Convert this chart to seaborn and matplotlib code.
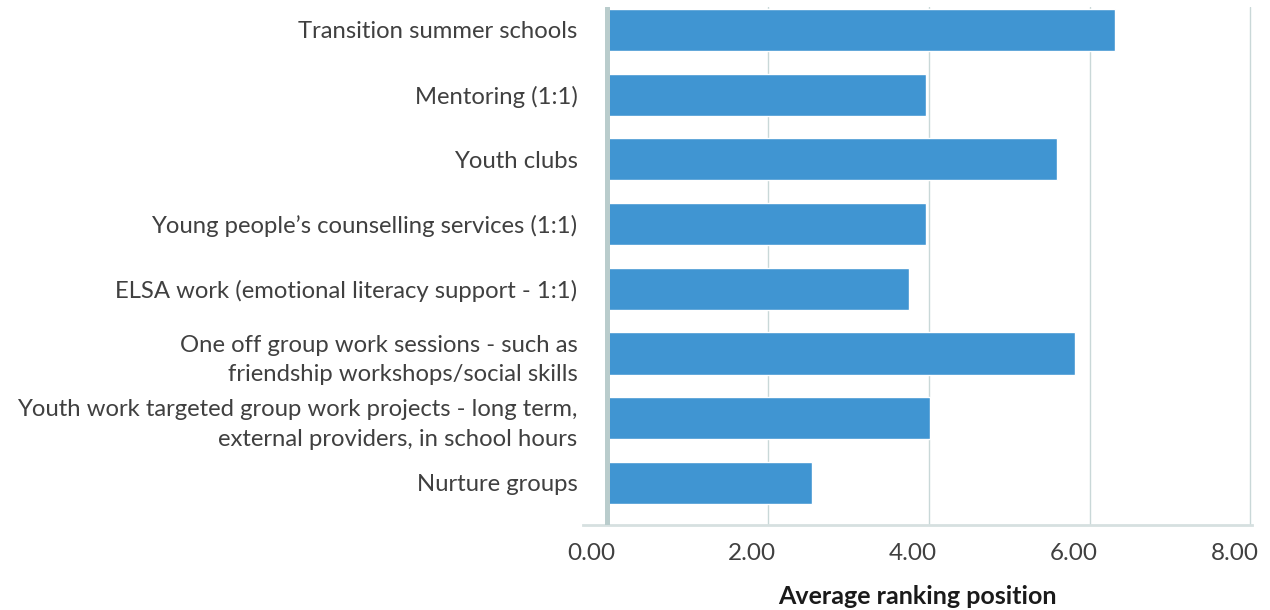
import matplotlib
matplotlib.use("Agg")
import matplotlib.pyplot as plt
import matplotlib.transforms as mtransforms
import seaborn as sns
import pandas as pd

categories = [
    "Transition summer schools",
    "Mentoring (1:1)",
    "Youth clubs",
    "Young people\u2019s counselling services (1:1)",
    "ELSA work (emotional literacy support - 1:1)",
    "One off group work sessions - such as\nfriendship workshops/social skills",
    "Youth work targeted group work projects - long term,\nexternal providers, in school hours",
    "Nurture groups",
]
values = [6.31, 3.96, 5.60, 3.96, 3.75, 5.82, 4.02, 2.55]
x_ticks = [0, 2, 4, 6, 8]
x_tick_labels = ["0.00", "2.00", "4.00", "6.00", "8.00"]
x_title = "Average ranking position"

sns.set_theme(style="white")
plt.rcParams["font.family"] = ["Lato", "DejaVu Sans"]

df = pd.DataFrame({"category": categories, "value": values})

fig = plt.figure(figsize=(12.7, 6.1), dpi=100)
ax = fig.add_axes([583 / 1270, 1 - 525 / 610, (1252 - 583) / 1270, (525 - 7) / 610])

sns.barplot(data=df, x="value", y="category", color="#4095d2", width=0.65,
            saturation=1, ax=ax, zorder=3)

ax.set_xlim(-0.3, 8.02)
ax.set_ylim(7.65, -0.355)

# vertical gridlines
for t in x_ticks[1:]:
    ax.axvline(t, color="#c9d8d8", lw=1.0, zorder=1)
# thick value axis at zero
ax.axvline(0, color="#b9cccc", lw=3.6, zorder=4)

for side in ["left", "right", "top"]:
    ax.spines[side].set_visible(False)
ax.spines["bottom"].set_color("#d6e0e0")
ax.spines["bottom"].set_linewidth(2.0)

ax.set_xticks(x_ticks)
ax.set_xticklabels(x_tick_labels, fontsize=17.5, color="#404040")
ax.tick_params(axis="x", length=0, pad=13)
ax.tick_params(axis="y", length=0, pad=4)
shift = mtransforms.ScaledTranslation(-16 / 100, 0, fig.dpi_scale_trans)
for lbl in ax.get_xticklabels():
    lbl.set_transform(lbl.get_transform() + shift)
for lbl in ax.get_yticklabels():
    lbl.set_fontsize(17.2)
    lbl.set_color("#404040")
    lbl.set_linespacing(1.5)
    lbl.set_horizontalalignment("right")
    lbl.set_multialignment("right")

ax.set_ylabel("")
ax.set_xlabel(x_title, fontsize=18, fontweight="bold", color="#1a1a1a", labelpad=15)

fig.savefig("out.png", dpi=100)
